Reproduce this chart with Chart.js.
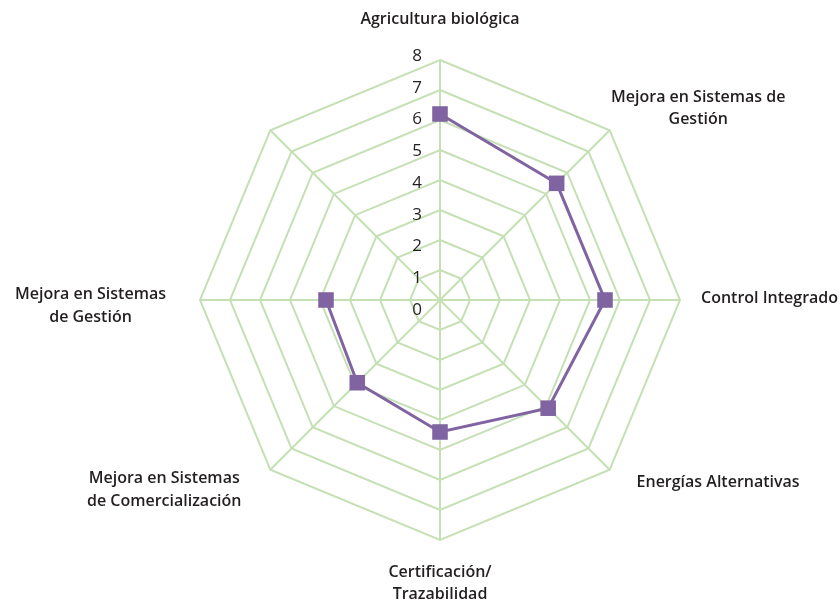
<!DOCTYPE html>
<html><head><meta charset="utf-8">
<script src="https://cdn.jsdelivr.net/npm/chart.js@4/dist/chart.umd.min.js"></script>
<style>html,body{margin:0;padding:0;background:#fff}#wrap{width:840px;height:601px;position:relative}</style>
</head><body><div id="wrap"><canvas id="c"></canvas></div>
<script>
const categories = [
  ["Agricultura biológica"],
  ["Mejora en Sistemas de", "Gestión"],
  ["Control Integrado"],
  ["Energías Alternativas"],
  ["Certificación/", "Trazabilidad"],
  ["Mejora en Sistemas", "de Comercialización"],
  ["Mejora en Sistemas", "de Gestión"],
  [""]
];
const values = [6.2, 5.5, 5.5, 5.1, 4.4, 3.9, 3.8, null];
const tickLabels = ["0", "1", "2", "3", "4", "5", "6", "7", "8"];

const GRID = "#c5e0b4";
const PURPLE = "#8064a2";
const TEXT = "#231f20";

// label block placement relative to the scale's point position
const labelLayout = [
  {h: "center", v: "bottom", dx: 0, dy: -25},
  {h: "left", v: "bottom", dx: -1.5, dy: 3.5},
  {h: "left", v: "middle", dx: 17, dy: -2},
  {h: "left", v: "top", dx: 24, dy: -1},
  {h: "center", v: "top", dx: 0, dy: 17},
  {h: "right", v: "top", dx: -26, dy: -5},
  {h: "right", v: "middle", dx: -30, dy: 6},
  {h: "right", v: "bottom", dx: 0, dy: 0}
];

const labelsPlugin = {
  id: "customLabels",
  afterDraw(chart) {
    const scale = chart.scales.r;
    const ctx = chart.ctx;
    ctx.save();
    ctx.fillStyle = TEXT;
    ctx.textBaseline = "middle";
    // point labels
    ctx.font = "600 16px 'Open Sans'";
    const L = 22.5;
    categories.forEach((lines, i) => {
      const lay = labelLayout[i];
      const p = scale.getPointPosition(i, scale.drawingArea + 4);
      const ax = p.x + lay.dx, ay = p.y + lay.dy;
      const w = Math.max(...lines.map(t => ctx.measureText(t).width));
      const hgt = lines.length * L;
      let left = lay.h === "left" ? ax : lay.h === "right" ? ax - w : ax - w / 2;
      let top = lay.v === "top" ? ay : lay.v === "bottom" ? ay - hgt : ay - hgt / 2;
      ctx.textAlign = "center";
      lines.forEach((t, j) => ctx.fillText(t, left + w / 2, top + L * (j + 0.5)));
    });
    // tick labels
    ctx.font = "500 17px 'Open Sans'";
    ctx.textAlign = "center";
    tickLabels.forEach(t => {
      const d = scale.getDistanceFromCenterForValue(Number(t));
      ctx.fillText(t, scale.xCenter - 23, scale.yCenter + 10 - d * (31.75 / 30));
    });
    ctx.restore();
  }
};

new Chart(document.getElementById("c"), {
  type: "radar",
  data: {
    labels: categories,
    datasets: [{
      data: values,
      borderColor: PURPLE,
      backgroundColor: PURPLE,
      borderWidth: 3,
      fill: false,
      spanGaps: false,
      pointStyle: "rect",
      pointRadius: 11,
      pointHoverRadius: 11,
      pointBackgroundColor: PURPLE,
      pointBorderColor: PURPLE,
      pointBorderWidth: 0
    }]
  },
  options: {
    responsive: true,
    maintainAspectRatio: false,
    animation: false,
    layout: {padding: {left: 200, right: 160, top: 60, bottom: 61}},
    plugins: {legend: {display: false}, tooltip: {enabled: false}},
    scales: {
      r: {
        min: 0, max: 8,
        ticks: {display: false, stepSize: 1},
        pointLabels: {display: false},
        grid: {color: GRID, lineWidth: 2, circular: false},
        angleLines: {color: GRID, lineWidth: 2}
      }
    }
  },
  plugins: [labelsPlugin]
});
</script></body></html>
